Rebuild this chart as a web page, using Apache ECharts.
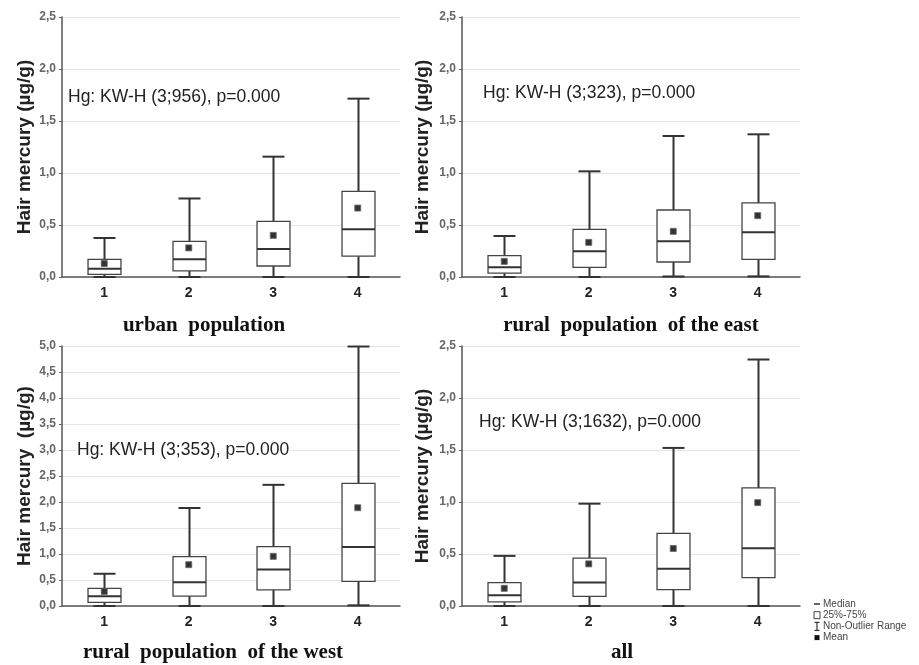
<!DOCTYPE html>
<html>
<head>
<meta charset="utf-8">
<script src="https://cdn.jsdelivr.net/npm/echarts@6/dist/echarts.min.js"></script>
<style>
html,body{margin:0;padding:0;background:#fff;}
#chart{width:919px;height:665px;}
</style>
</head>
<body>
<div id="chart"></div>
<script>
// ---- data ----
var categories = ['1', '2', '3', '4'];
// five-number summaries: [min, Q1, median, Q3, max]
var urbanBoxes = [[0, 0.026, 0.08, 0.17, 0.375], [0, 0.058, 0.17, 0.343, 0.755], [0, 0.106, 0.27, 0.535, 1.157], [0, 0.2, 0.458, 0.824, 1.715]];
var urbanMeans = [0.13, 0.28, 0.40, 0.663];
var eastBoxes = [[0, 0.038, 0.093, 0.205, 0.394], [0, 0.093, 0.247, 0.458, 1.016], [0.005, 0.144, 0.343, 0.644, 1.356], [0.006, 0.17, 0.43, 0.712, 1.372]];
var eastMeans = [0.15, 0.333, 0.439, 0.59];
var westBoxes = [[0, 0.07, 0.186, 0.34, 0.62], [0, 0.19, 0.455, 0.95, 1.885], [0, 0.31, 0.70, 1.14, 2.33], [0.013, 0.474, 1.135, 2.36, 4.99]];
var westMeans = [0.28, 0.795, 0.955, 1.89];
var allBoxes = [[0, 0.039, 0.103, 0.225, 0.482], [0, 0.093, 0.225, 0.46, 0.984], [0, 0.158, 0.357, 0.698, 1.52], [0, 0.273, 0.556, 1.135, 2.37]];
var allMeans = [0.17, 0.405, 0.553, 0.994];

var panelTitles = ['urban  population', 'rural  population  of the east', 'rural  population  of the west', 'all'];
var statTexts = ['Hg: KW-H (3;956), p=0.000', 'Hg: KW-H (3;323), p=0.000', 'Hg: KW-H (3;353), p=0.000', 'Hg: KW-H (3;1632), p=0.000'];
var yNames = ['Hair mercury (\u00b5g/g)', 'Hair mercury (\u00b5g/g)', 'Hair mercury  (\u00b5g/g)', 'Hair mercury (\u00b5g/g)'];
var yMax = [2.5, 2.5, 5.0, 2.5];
var legendLabels = ['Median', '25%-75%', 'Non-Outlier Range', 'Mean'];

// ---- layout ----
var panels = [
  {boxes: urbanBoxes, means: urbanMeans, grid: {left: 62, top: 17, width: 338, height: 260}, title: [204, 326], stat: [66, 97], nameGap: 28},
  {boxes: eastBoxes, means: eastMeans, grid: {left: 462, top: 17, width: 338, height: 260}, title: [631, 326], stat: [481, 93], nameGap: 30},
  {boxes: westBoxes, means: westMeans, grid: {left: 62, top: 346, width: 338, height: 260}, title: [213, 653], stat: [75, 450], nameGap: 28},
  {boxes: allBoxes, means: allMeans, grid: {left: 462, top: 346, width: 338, height: 260}, title: [622, 653], stat: [477, 422], nameGap: 30}
];

var grids = [], xAxes = [], yAxes = [], series = [], graphics = [];
var lineCol = '#333';

panels.forEach(function (p, i) {
  grids.push(Object.assign({outerBoundsMode: 'none', containLabel: false}, p.grid));
  xAxes.push({
    type: 'category', gridIndex: i, data: categories,
    axisLine: {lineStyle: {color: '#555', width: 1.5}},
    axisTick: {show: false},
    axisLabel: {color: '#222', fontWeight: 'bold', fontSize: 14, fontFamily: 'Liberation Sans, Arial', margin: 9}
  });
  yAxes.push({
    type: 'value', gridIndex: i, min: 0, max: yMax[i], interval: 0.5,
    name: yNames[i], nameLocation: 'middle', nameGap: p.nameGap,
    nameTextStyle: {color: '#222', fontWeight: 'bold', fontSize: 19, fontFamily: 'Liberation Sans, Arial'},
    axisLine: {show: true, lineStyle: {color: '#555', width: 1.5}},
    axisTick: {show: true, length: 3, lineStyle: {color: '#666'}},
    axisLabel: {color: '#666', fontWeight: 'bold', fontSize: 12, fontFamily: 'Liberation Sans, Arial', margin: 6,
      formatter: function (v) { return v.toFixed(1).replace('.', ','); }},
    splitLine: {show: true, lineStyle: {color: '#e4e4e4', width: 1}}
  });
  var data = p.boxes.map(function (b, k) { return [k].concat(b); });
  series.push({
    type: 'custom', xAxisIndex: i, yAxisIndex: i, data: data, z: 2,
    renderItem: function (params, api) {
      var x = api.value(0);
      var c = function (k) { return api.coord([x, api.value(k)]); };
      var pMin = c(1), pQ1 = c(2), pMed = c(3), pQ3 = c(4), pMax = c(5);
      var band = api.size([1, 0])[0];
      var bw = band * 0.39, cw = band * 0.26;
      var cx = Math.round(pMed[0]) + 0.5;
      var ls = {stroke: lineCol, lineWidth: 2};
      return {
        type: 'group',
        children: [
          {type: 'line', shape: {x1: cx, y1: pQ3[1], x2: cx, y2: pMax[1]}, style: ls},
          {type: 'line', shape: {x1: cx, y1: pQ1[1], x2: cx, y2: pMin[1]}, style: ls},
          {type: 'line', shape: {x1: cx - cw / 2, y1: pMax[1], x2: cx + cw / 2, y2: pMax[1]}, style: ls},
          {type: 'line', shape: {x1: cx - cw / 2, y1: pMin[1], x2: cx + cw / 2, y2: pMin[1]}, style: ls},
          {type: 'rect', shape: {x: cx - bw / 2, y: pQ3[1], width: bw, height: pQ1[1] - pQ3[1]},
            style: {fill: '#fff', stroke: '#444', lineWidth: 1.3}},
          {type: 'line', shape: {x1: cx - bw / 2, y1: pMed[1], x2: cx + bw / 2, y2: pMed[1]}, style: ls}
        ]
      };
    }
  });
  series.push({
    type: 'scatter', xAxisIndex: i, yAxisIndex: i, z: 3,
    data: p.means.map(function (m, k) { return [k, m]; }),
    symbol: 'rect', symbolSize: 6,
    itemStyle: {color: '#000', borderColor: '#666', borderWidth: 1}
  });
  graphics.push({
    type: 'text', x: p.title[0], y: p.title[1], z: 10,
    style: {text: panelTitles[i], fill: '#111', font: 'bold 21px "Liberation Serif", "Times New Roman", serif', textAlign: 'center', textVerticalAlign: 'middle'}
  });
  graphics.push({
    type: 'text', x: p.stat[0], y: p.stat[1], z: 10,
    style: {text: statTexts[i], fill: '#222', font: '17.5px "Liberation Sans", Arial, sans-serif', textAlign: 'left', textVerticalAlign: 'middle',
      backgroundColor: '#fff', padding: [1, 2]}
  });
});

// legend (bottom right)
var lgX = 813, lgY = 604, lgStep = 11.2;
var legendFont = '10px "Liberation Sans", Arial, sans-serif';
legendLabels.forEach(function (t, k) {
  graphics.push({type: 'text', x: lgX + 10, y: lgY + k * lgStep,
    style: {text: t, fill: '#444', font: legendFont, textVerticalAlign: 'middle'}});
});
graphics.push({type: 'line', shape: {x1: lgX + 1, y1: lgY, x2: lgX + 7, y2: lgY}, style: {stroke: '#333', lineWidth: 1.5}});
graphics.push({type: 'rect', shape: {x: lgX + 1, y: lgY + lgStep - 3.5, width: 6, height: 7}, style: {fill: '#fff', stroke: '#444', lineWidth: 1}});
var yr = lgY + 2 * lgStep;
graphics.push({type: 'line', shape: {x1: lgX + 4, y1: yr - 4, x2: lgX + 4, y2: yr + 4}, style: {stroke: '#333', lineWidth: 1.2}});
graphics.push({type: 'line', shape: {x1: lgX + 1.5, y1: yr - 4, x2: lgX + 6.5, y2: yr - 4}, style: {stroke: '#333', lineWidth: 1.2}});
graphics.push({type: 'line', shape: {x1: lgX + 1.5, y1: yr + 4, x2: lgX + 6.5, y2: yr + 4}, style: {stroke: '#333', lineWidth: 1.2}});
graphics.push({type: 'rect', shape: {x: lgX + 1.5, y: lgY + 3 * lgStep - 2.5, width: 5, height: 5}, style: {fill: '#111'}});

var chart = echarts.init(document.getElementById('chart'), null, {renderer: 'canvas'});
chart.setOption({
  backgroundColor: '#fff',
  animation: false,
  grid: grids,
  xAxis: xAxes,
  yAxis: yAxes,
  series: series,
  graphic: graphics
});
</script>
</body>
</html>
